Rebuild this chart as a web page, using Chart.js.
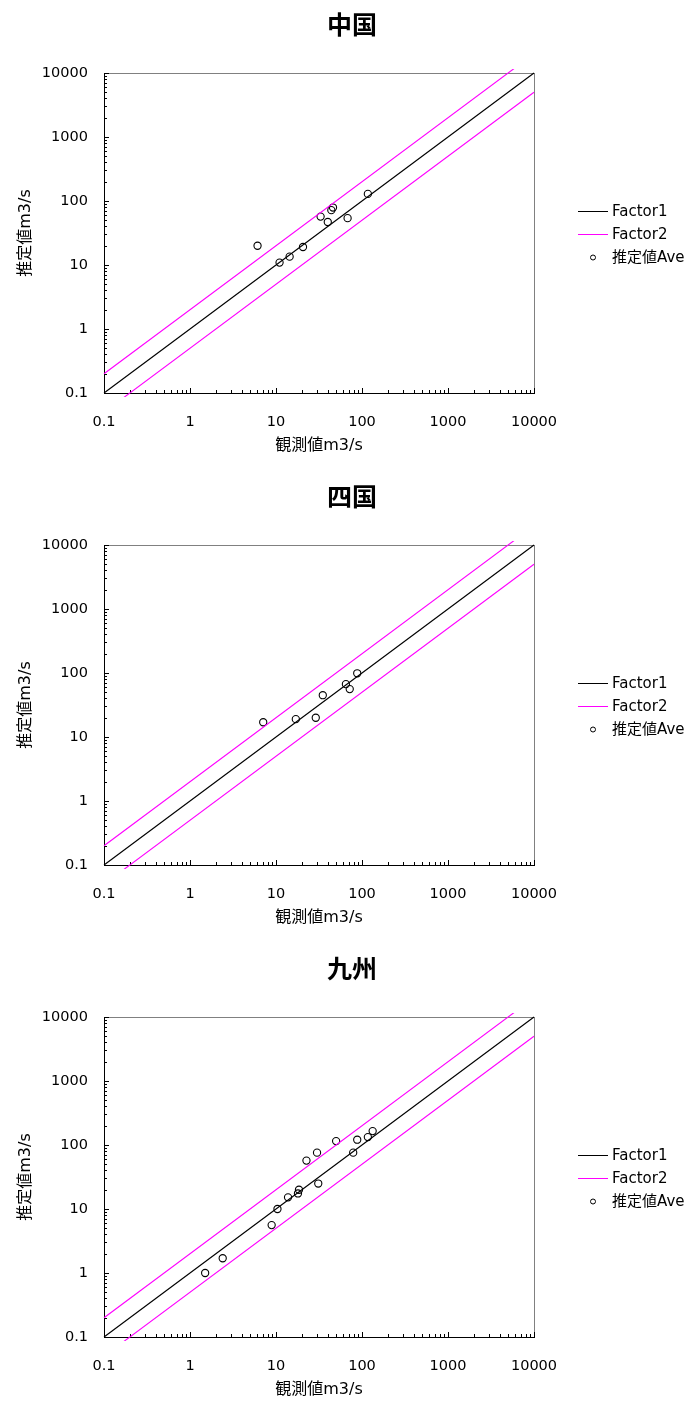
<!DOCTYPE html>
<html><head><meta charset="utf-8">
<script src="https://cdn.jsdelivr.net/npm/chart.js@4/dist/chart.umd.min.js"></script>
<style>
html,body{margin:0;padding:0;background:#fff;overflow:hidden;width:698px;height:1403px}
canvas{position:absolute;left:0}
</style></head><body>
<canvas id="c1" width="698" height="467" style="top:0px"></canvas>
<canvas id="c2" width="698" height="467" style="top:472px"></canvas>
<canvas id="c3" width="698" height="467" style="top:944px"></canvas>
<script>
// ---- data ----
const chartTitles = ['中国', '四国', '九州'];
const xAxisTitle = '観測値m3/s';
const yAxisTitle = '推定値m3/s';
const tickValues = [0.1, 1, 10, 100, 1000, 10000];
const tickLabels = ['0.1', '1', '10', '100', '1000', '10000'];
const legendLabels = ['Factor1', 'Factor2', '推定値Ave'];

const lineX = [0.1, 10000];
const factor1Y = [0.1, 10000];
const factor2UpperY = [0.2, 20000];
const factor2LowerY = [0.05, 5000];

const chugokuObs = [6.1, 11, 14.4, 20.6, 33, 40, 44, 46, 68, 117];
const chugokuEst = [20, 10.9, 13.5, 19.1, 57, 47, 72, 79, 54, 129];

const shikokuObs = [7.1, 17, 29, 35, 65, 72, 88];
const shikokuEst = [17, 19, 20, 45, 67, 56, 99];

const kyushuObs = [1.5, 2.4, 8.9, 10.4, 13.8, 18, 18.5, 22.6, 30, 31, 50, 79, 88, 117, 133];
const kyushuEst = [1.0, 1.7, 5.6, 10, 15.2, 17.5, 20, 57, 76, 25, 115, 76, 121, 133, 165];

// ---- rendering ----
const FAM = '"DejaVu Sans", "Noto Sans CJK JP", sans-serif';
const MAGENTA = '#FF00FF';
Chart.defaults.color = '#000';

const pts = (xs, ys) => xs.map((x, i) => ({x: x, y: ys[i]}));

const decor = {
  id: 'decor',
  beforeDatasetsDraw(chart) {
    const {ctx, chartArea: a, scales: {x, y}} = chart;
    ctx.save();
    ctx.lineWidth = 1;
    // grey top/right border
    ctx.strokeStyle = '#808080';
    ctx.beginPath();
    ctx.moveTo(a.left, a.top + 0.5); ctx.lineTo(a.right + 0.5, a.top + 0.5);
    ctx.moveTo(a.right + 0.5, a.top); ctx.lineTo(a.right + 0.5, a.bottom);
    ctx.stroke();
    // black axes
    ctx.strokeStyle = '#000';
    ctx.beginPath();
    ctx.moveTo(a.left + 0.5, a.top); ctx.lineTo(a.left + 0.5, a.bottom + 1);
    ctx.moveTo(a.left, a.bottom + 0.5); ctx.lineTo(a.right + 1, a.bottom + 0.5);
    // inside tick marks (major + minor)
    for (let e = -1; e <= 4; e++) {
      for (let m = 1; m <= 9; m++) {
        const v = m * Math.pow(10, e);
        if (v > 10000 * 1.0001) break;
        const len = m === 1 ? 5 : 3;
        const px = Math.round(x.getPixelForValue(v)) + 0.5;
        ctx.moveTo(px, a.bottom); ctx.lineTo(px, a.bottom - len);
        const py = Math.round(y.getPixelForValue(v)) + 0.5;
        ctx.moveTo(a.left, py); ctx.lineTo(a.left + len, py);
      }
    }
    ctx.stroke();
    ctx.restore();
  },
  afterDraw(chart, args, opts) {
    const ctx = chart.ctx;
    ctx.save();
    // title
    ctx.fillStyle = '#000';
    ctx.font = 'bold 25px "Noto Sans CJK JP", sans-serif';
    ctx.textAlign = 'center';
    ctx.textBaseline = 'middle';
    ctx.fillText(opts.title, 352, 24);
    // legend
    const rows = [211, 234, 257];
    ctx.lineWidth = 1;
    ctx.strokeStyle = '#000';
    ctx.beginPath(); ctx.moveTo(578, rows[0] + 0.5); ctx.lineTo(608, rows[0] + 0.5); ctx.stroke();
    ctx.strokeStyle = MAGENTA;
    ctx.beginPath(); ctx.moveTo(578, rows[1] + 0.5); ctx.lineTo(608, rows[1] + 0.5); ctx.stroke();
    ctx.strokeStyle = '#000';
    ctx.beginPath(); ctx.arc(593, rows[2] + 0.5, 2.5, 0, Math.PI * 2); ctx.stroke();
    ctx.font = '15px ' + FAM;
    ctx.textAlign = 'left';
    legendLabels.forEach((t, i) => ctx.fillText(t, 612, rows[i] + 1));
    ctx.restore();
  }
};

function makeChart(id, title, obs, est) {
  const tickFont = {family: FAM, size: 14.5};
  const titleFont = {family: FAM, size: 16};
  new Chart(document.getElementById(id), {
    type: 'scatter',
    data: {
      datasets: [
        {label: 'Factor1', data: pts(lineX, factor1Y), showLine: true, borderColor: '#000', borderWidth: 1.1, pointRadius: 0, clip: 4},
        {label: 'Factor2', data: pts(lineX, factor2UpperY), showLine: true, borderColor: MAGENTA, borderWidth: 1.1, pointRadius: 0, clip: 4},
        {label: 'Factor2', data: pts(lineX, factor2LowerY), showLine: true, borderColor: MAGENTA, borderWidth: 1.1, pointRadius: 0, clip: 4},
        {label: '推定値Ave', data: pts(obs, est), showLine: false, pointRadius: 3.6, pointBorderWidth: 1.1,
         pointBorderColor: '#000', pointBackgroundColor: 'rgba(0,0,0,0)', clip: false}
      ]
    },
    options: {
      responsive: false,
      animation: false,
      events: [],
      layout: {padding: {top: 73, right: 164, left: 0, bottom: 0}},
      plugins: {legend: {display: false}, tooltip: {enabled: false}, title: {display: false}, decor: {title: title}},
      scales: {
        x: {
          type: 'logarithmic', position: 'bottom', min: 0.1, max: 10000,
          afterBuildTicks: s => { s.ticks = tickValues.map(v => ({value: v})); },
          afterFit: s => { s.height = 74; },
          ticks: {callback: (v, i) => tickLabels[i], autoSkip: false, maxRotation: 0, padding: 21, font: tickFont, color: '#000'},
          grid: {display: false, drawTicks: false},
          border: {display: false},
          title: {display: true, text: xAxisTitle, font: titleFont, color: '#000', padding: {top: 0, bottom: 12}}
        },
        y: {
          type: 'logarithmic', position: 'left', min: 0.1, max: 10000,
          afterBuildTicks: s => { s.ticks = tickValues.map(v => ({value: v})); },
          afterFit: s => { s.width = 104; },
          ticks: {callback: (v, i) => tickLabels[i], autoSkip: false, padding: 16, font: tickFont, color: '#000'},
          grid: {display: false, drawTicks: false},
          border: {display: false},
          title: {display: true, text: yAxisTitle, font: titleFont, color: '#000', padding: {top: 16, bottom: 0}}
        }
      }
    },
    plugins: [decor]
  });
}

makeChart('c1', chartTitles[0], chugokuObs, chugokuEst);
makeChart('c2', chartTitles[1], shikokuObs, shikokuEst);
makeChart('c3', chartTitles[2], kyushuObs, kyushuEst);
</script>
</body></html>
